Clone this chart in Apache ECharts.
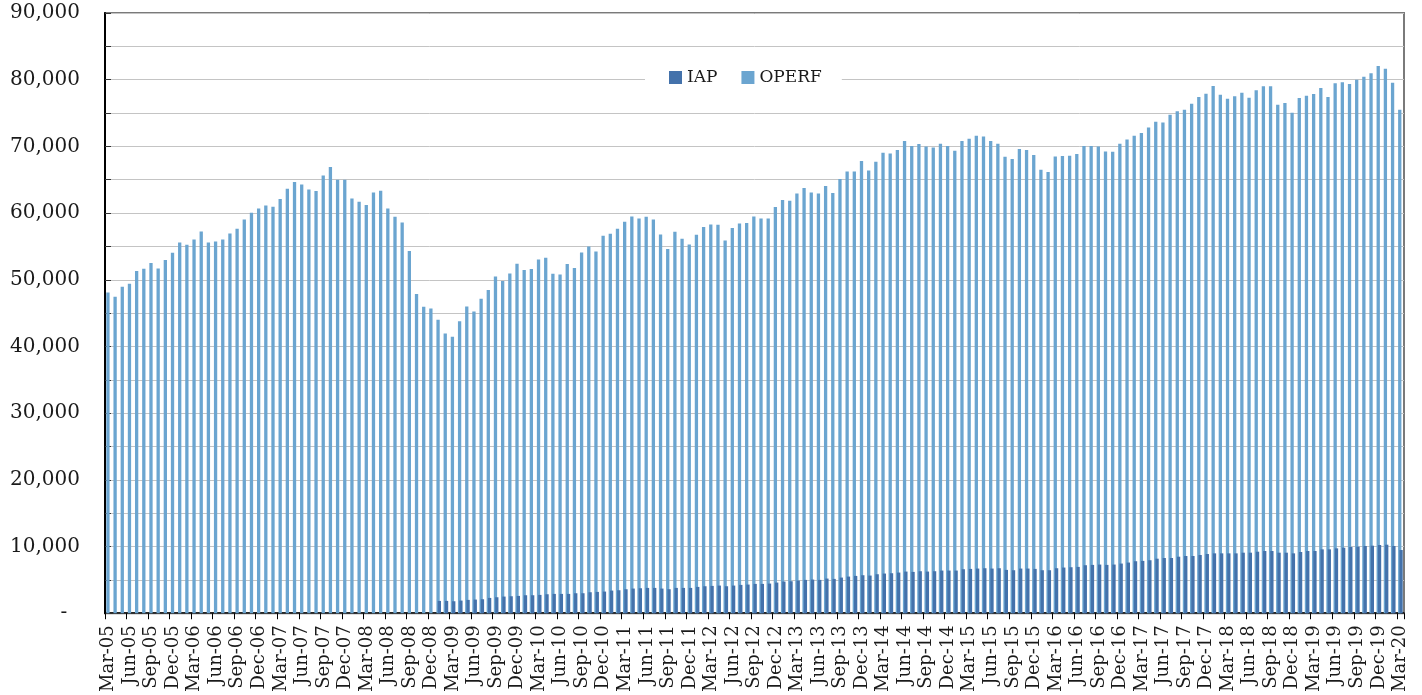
<!DOCTYPE html>
<html>
<head>
<meta charset="utf-8">
<script src="https://cdn.jsdelivr.net/npm/echarts@6/dist/echarts.min.js"></script>
<style>
html,body{margin:0;padding:0;background:#fff;}
#chart{width:1422px;height:695px;}
</style>
</head>
<body>
<div id="chart"></div>
<script>
// Categories (monthly, Mar-05 .. Mar-20)
const categories = [
 'Mar-05','Apr-05','May-05','Jun-05','Jul-05','Aug-05','Sep-05','Oct-05','Nov-05','Dec-05',
 'Jan-06','Feb-06','Mar-06','Apr-06','May-06','Jun-06','Jul-06','Aug-06','Sep-06','Oct-06','Nov-06','Dec-06',
 'Jan-07','Feb-07','Mar-07','Apr-07','May-07','Jun-07','Jul-07','Aug-07','Sep-07','Oct-07','Nov-07','Dec-07',
 'Jan-08','Feb-08','Mar-08','Apr-08','May-08','Jun-08','Jul-08','Aug-08','Sep-08','Oct-08','Nov-08','Dec-08',
 'Jan-09','Feb-09','Mar-09','Apr-09','May-09','Jun-09','Jul-09','Aug-09','Sep-09','Oct-09','Nov-09','Dec-09',
 'Jan-10','Feb-10','Mar-10','Apr-10','May-10','Jun-10','Jul-10','Aug-10','Sep-10','Oct-10','Nov-10','Dec-10',
 'Jan-11','Feb-11','Mar-11','Apr-11','May-11','Jun-11','Jul-11','Aug-11','Sep-11','Oct-11','Nov-11','Dec-11',
 'Jan-12','Feb-12','Mar-12','Apr-12','May-12','Jun-12','Jul-12','Aug-12','Sep-12','Oct-12','Nov-12','Dec-12',
 'Jan-13','Feb-13','Mar-13','Apr-13','May-13','Jun-13','Jul-13','Aug-13','Sep-13','Oct-13','Nov-13','Dec-13',
 'Jan-14','Feb-14','Mar-14','Apr-14','May-14','Jun-14','Jul-14','Aug-14','Sep-14','Oct-14','Nov-14','Dec-14',
 'Jan-15','Feb-15','Mar-15','Apr-15','May-15','Jun-15','Jul-15','Aug-15','Sep-15','Oct-15','Nov-15','Dec-15',
 'Jan-16','Feb-16','Mar-16','Apr-16','May-16','Jun-16','Jul-16','Aug-16','Sep-16','Oct-16','Nov-16','Dec-16',
 'Jan-17','Feb-17','Mar-17','Apr-17','May-17','Jun-17','Jul-17','Aug-17','Sep-17','Oct-17','Nov-17','Dec-17',
 'Jan-18','Feb-18','Mar-18','Apr-18','May-18','Jun-18','Jul-18','Aug-18','Sep-18','Oct-18','Nov-18','Dec-18',
 'Jan-19','Feb-19','Mar-19','Apr-19','May-19','Jun-19','Jul-19','Aug-19','Sep-19','Oct-19','Nov-19','Dec-19',
 'Jan-20','Feb-20','Mar-20'
];

// OPERF, one value per month from Mar-05
const operf = [
 48100,47450,48950,49400,51300,51650,52500,51700,52950,54050,
 55600,55250,56050,57250,55600,55750,56050,56950,57650,59050,60050,60700,
 61150,60950,62100,63650,64650,64300,63550,63300,65650,66900,65000,65000,
 62200,61700,61200,63100,63350,60700,59450,58600,54300,47850,45950,45700,
 44000,41950,41450,43800,46000,45250,47150,48450,50500,49800,50950,52400,
 51450,51600,53050,53300,50900,50800,52350,51750,54100,55000,54250,56600,
 56900,57650,58700,59500,59200,59450,59050,56800,54600,57200,56150,55300,
 56750,57900,58300,58250,55900,57750,58450,58500,59500,59200,59200,60900,
 61950,61850,62950,63750,63100,62950,64050,63000,65100,66250,66250,67800,
 66400,67700,69050,68950,69450,70800,70050,70350,70000,69850,70400,70050,
 69350,70800,71150,71600,71500,70800,70400,68450,68100,69600,69450,68700,
 66500,66150,68500,68550,68600,68850,70050,70050,70000,69250,69200,70400,
 71050,71600,72000,72850,73700,73600,74750,75250,75500,76400,77400,77900,
 79050,77750,77150,77500,78050,77300,78400,79000,79000,76250,76500,75050,
 77250,77600,77850,78750,77400,79450,79600,79350,80000,80450,80950,82050,
 81650,79550,75500
];

// IAP, one value per month from iapStart
const iapStart = 'Jan-09';
const iap = [
 1850,1850,1800,1900,2000,2050,2100,2300,2400,2500,2550,2600,
 2700,2700,2750,2850,2900,2900,2900,3000,3000,3150,3200,3250,
 3400,3450,3600,3700,3750,3800,3800,3700,3600,3800,3800,3800,
 3950,4050,4100,4150,4050,4150,4250,4300,4400,4400,4450,4600,
 4750,4800,4900,5000,5050,5000,5200,5150,5350,5500,5600,5700,
 5650,5850,5950,6000,6100,6250,6200,6300,6250,6300,6400,6400,
 6400,6600,6650,6700,6750,6700,6750,6500,6450,6700,6700,6650,
 6450,6450,6750,6850,6900,6950,7200,7250,7300,7250,7300,7450,
 7600,7800,7850,7950,8180,8280,8280,8480,8580,8580,8730,8880,
 8980,8980,8980,8980,9080,9080,9230,9330,9330,9080,9080,8980,
 9180,9330,9330,9580,9580,9730,9830,9930,9980,10080,10130,10230,
 10280,10080,9480
];

const yTicks = [0,10000,20000,30000,40000,50000,60000,70000,80000,90000];
const legendOrder = ['IAP','OPERF'];

const startIdx = categories.indexOf(iapStart);
const iapData = categories.map((c,i)=> (i>=startIdx && i-startIdx < iap.length) ? iap[i-startIdx] : null);

const FONT = '"DejaVu Serif", "Liberation Serif", serif';
const chart = echarts.init(document.getElementById('chart'), null, {renderer:'canvas'});
chart.setOption({
  animation:false,
  backgroundColor:'#fff',
  textStyle:{fontFamily:FONT},
  grid:{left:105,right:18,top:13,bottom:81,show:true,borderColor:'#7a7a7a',borderWidth:2,backgroundColor:'transparent'},
  legend:{
    data:legendOrder,
    left:645, top:66,
    padding:[3,20,3,24],
    backgroundColor:'#fff',
    itemWidth:13,itemHeight:13,itemGap:24,
    icon:'rect',
    textStyle:{fontFamily:FONT,fontSize:17,color:'#1a1a1a'}
  },
  xAxis:{
    type:'category',
    data:categories,
    boundaryGap:true,
    axisLine:{lineStyle:{color:'#000',width:1.5}},
    axisTick:{show:true,inside:false,interval:2,length:6,lineStyle:{color:'#000',width:1}},
    axisLabel:{interval:2,rotate:90,fontSize:18,margin:12,color:'#1a1a1a',fontFamily:FONT},
    splitLine:{show:false}
  },
  yAxis:{
    type:'value',
    min:0,max:90000,interval:5000,
    axisLine:{show:true,lineStyle:{color:'#000',width:2}},
    axisTick:{show:true,inside:true,length:6,lineStyle:{color:'#333'}},
    axisLabel:{
      fontSize:20,margin:25,color:'#1a1a1a',fontFamily:FONT,
      formatter:function(v){
        if(v===0) return '-  ';
        if(yTicks.indexOf(v)>=0) return v.toLocaleString('en-US');
        return '';
      }
    },
    splitLine:{show:true,lineStyle:{color:'#c4c4c4',width:1}}
  },
  series:[
    {name:'OPERF',type:'bar',data:operf,barWidth:3.3,barGap:'-60%',
     itemStyle:{color:'#6BA5D0'}},
    {name:'IAP',type:'bar',data:iapData,barWidth:3.3,barGap:'-60%',
     itemStyle:{color:'#4472AB'}}
  ]
});
</script>
</body>
</html>
